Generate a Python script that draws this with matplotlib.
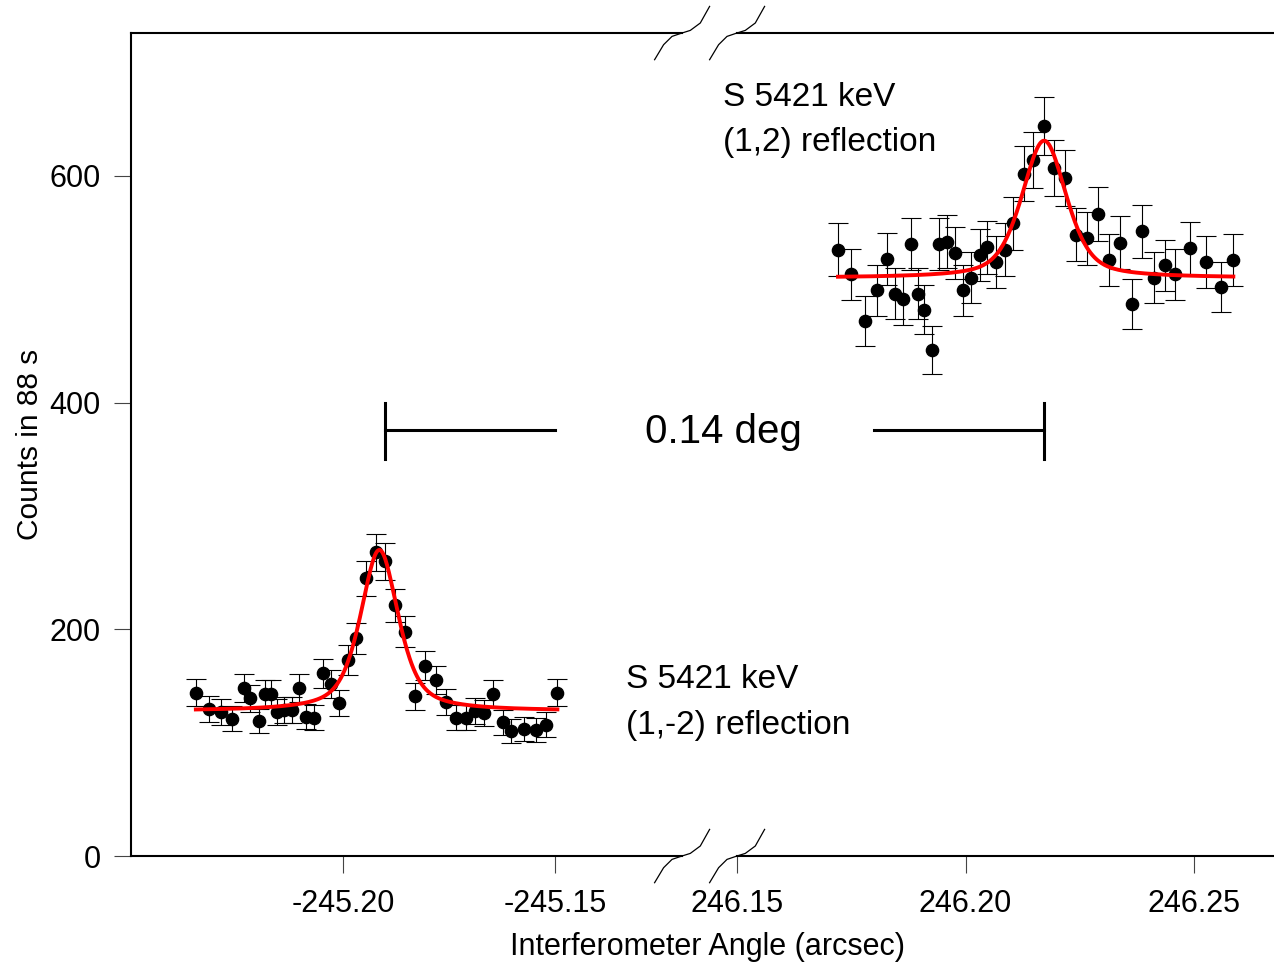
import numpy as np
import matplotlib
matplotlib.use("Agg")
import matplotlib.pyplot as plt
from matplotlib.lines import Line2D

plt.rcParams['font.family'] = ['Liberation Sans', 'DejaVu Sans']

# (1,-2) reflection, negative angle side
angle_neg = [-245.2347, -245.2315, -245.2288, -245.2261, -245.2233, -245.2219, -245.2199, -245.2184,
             -245.2170, -245.2156, -245.2138, -245.2121, -245.2104, -245.2086, -245.2068, -245.2048,
             -245.2029, -245.2009, -245.1989, -245.1968, -245.1946, -245.1923, -245.1901, -245.1877,
             -245.1853, -245.1829, -245.1806, -245.1781, -245.1757, -245.1733, -245.1710, -245.1688,
             -245.1666, -245.1645, -245.1623, -245.1604, -245.1572, -245.1545, -245.1520, -245.1494]
counts_neg = [144, 130, 127, 121, 148, 139, 119, 143, 143, 127, 129, 129, 148, 123, 122, 161,
              152, 135, 173, 192, 245, 268, 260, 221, 198, 141, 168, 155, 136, 122, 122, 128,
              126, 143, 118, 110, 112, 111, 116, 144]

# (1,2) reflection, positive angle side
angle_pos = [246.1721, 246.1750, 246.1779, 246.1806, 246.1829, 246.1845, 246.1864, 246.1880,
             246.1895, 246.1910, 246.1927, 246.1942, 246.1960, 246.1978, 246.1995, 246.2013,
             246.2031, 246.2047, 246.2067, 246.2087, 246.2105, 246.2127, 246.2148, 246.2171,
             246.2194, 246.2218, 246.2242, 246.2266, 246.2289, 246.2314, 246.2338, 246.2364,
             246.2387, 246.2413, 246.2437, 246.2459, 246.2491, 246.2526, 246.2558, 246.2586]
counts_pos = [535, 513, 472, 499, 527, 496, 491, 540, 496, 482, 446, 540, 542, 532, 499, 510,
              530, 537, 524, 535, 558, 602, 614, 644, 607, 598, 548, 545, 566, 526, 541, 487,
              551, 510, 521, 513, 536, 524, 502, 526]

# fitted peak parameters: baseline, amplitude, centre, fwhm, lorentz fraction
fit_neg = (128, 142, -245.1914, 0.0106, 0.6)
fit_pos = (510, 121, 246.2172, 0.0116, 0.5)

peak_sep_label = "0.14 deg"


def pseudo_voigt(x, base, amp, x0, fwhm, eta):
    u = (x - x0) / fwhm
    return base + amp * (eta / (1 + 4 * u ** 2) + (1 - eta) * np.exp(-4 * np.log(2) * u ** 2))


W, H = 1274, 966
fig = plt.figure(figsize=(W / 100, H / 100), dpi=100)

bot = 1 - 856 / H
hgt = (856 - 33) / H
ax1 = fig.add_axes([131 / W, bot, (682 - 131) / W, hgt])
ax2 = fig.add_axes([737 / W, bot, 1 - 737 / W, hgt])

for ax, x, y, fit in [(ax1, angle_neg, counts_neg, fit_neg), (ax2, angle_pos, counts_pos, fit_pos)]:
    x = np.array(x)
    y = np.array(y, dtype=float)
    # Poisson errors on the counts
    ax.errorbar(x, y, yerr=np.sqrt(y), fmt='o', color='black', ms=8.8, ecolor='black',
                elinewidth=0.8, capsize=7, capthick=0.8, zorder=3)
    xf = np.linspace(x.min(), x.max(), 400)
    ax.plot(xf, pseudo_voigt(xf, *fit), color='red', lw=2.8, zorder=4)
    ax.set_ylim(0, 726)
    ax.spines['right'].set_visible(False)
    for s in ['top', 'bottom', 'left']:
        ax.spines[s].set_linewidth(1.5)
    ax.tick_params(labelsize=22, length=12, width=0.8, color='#444444')
    ax.tick_params(axis='x', pad=12)
    ax.tick_params(axis='y', pad=10)

ax1.set_xlim(-245.25, -245.12)
ax1.set_xticks([-245.20, -245.15])
ax1.set_xticklabels(['-245.20', '-245.15'])
ax1.set_yticks([0, 200, 400, 600])
ax1.set_ylabel('Counts in 88 s', fontsize=21.5, labelpad=4)

ax2.set_xlim(246.1502, 246.2675)
ax2.set_xticks([246.15, 246.20, 246.25])
ax2.set_xticklabels(['246.15', '246.20', '246.25'])
ax2.spines['left'].set_visible(False)
ax2.set_yticks([])

fig.text(708 / W, 1 - 947 / H, 'Interferometer Angle (arcsec)', fontsize=22, ha='center', va='center')

# separation bracket between the two peak centres
ax1.plot([fit_neg[2] + 0.0013] * 2, [350, 400], color='black', lw=2.2)
ax1.plot([fit_neg[2] + 0.0013, -245.15], [376, 376], color='black', lw=2.2)
ax2.plot([fit_pos[2]] * 2, [350, 400], color='black', lw=2.2, clip_on=False)
ax2.plot([246.18, fit_pos[2]], [376, 376], color='black', lw=2.2)
fig.text(723 / W, 1 - 432 / H, peak_sep_label, fontsize=29, ha='center', va='center')

fig.text(723 / W, 1 - 106 / H, 'S 5421 keV', fontsize=24, va='baseline')
fig.text(723 / W, 1 - 151 / H, '(1,2) reflection', fontsize=24, va='baseline')
fig.text(626 / W, 1 - 688 / H, 'S 5421 keV', fontsize=24, va='baseline')
fig.text(626 / W, 1 - 734 / H, '(1,-2) reflection', fontsize=24, va='baseline')

# axis break marks
bdx = np.array([-27.4, -18.4, -10, 0, 8.3, 18.3, 27.6])
bdy = np.array([26.7, 11.7, 3.4, 0, -2.6, -10, -26.6])
for cx in (682, 737):
    for cy in (33, 856):
        fig.add_artist(Line2D((cx + bdx) / W, 1 - (cy + bdy) / H, color='black', lw=0.9))

fig.savefig('out.png', dpi=100)
